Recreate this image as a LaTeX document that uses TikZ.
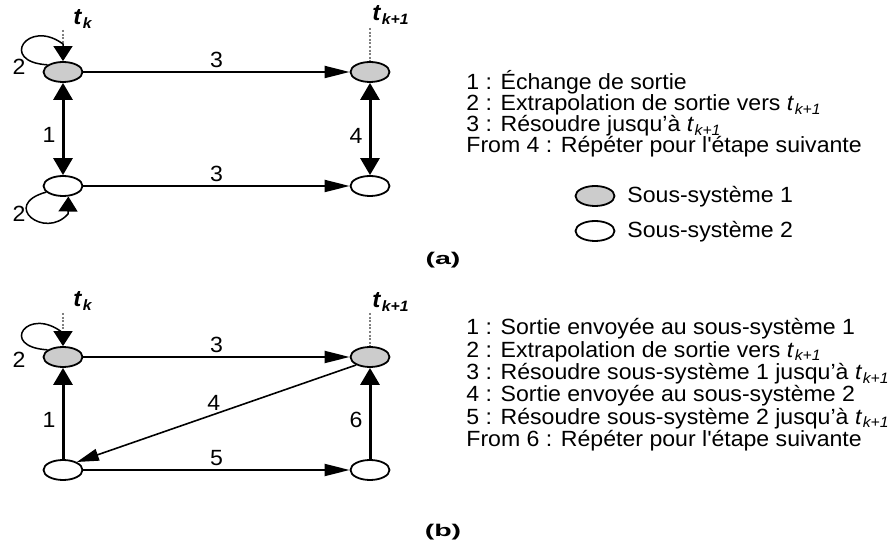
\documentclass[tikz,border=0pt]{standalone}
\usepackage{fontspec}
\setmainfont{Liberation Sans}[FakeStretch=1.05]
\usetikzlibrary{arrows.meta,shapes.geometric}
\definecolor{subgray}{RGB}{204,204,204}
\newcommand{\tstep}[1]{\textit{t}\kern0.3pt\raisebox{-0.3ex}{\fontsize{7.5}{7.5}\selectfont\textit{#1}}}
\tikzset{
  sub1/.style={ellipse, draw, line width=0.9pt, fill=subgray, minimum width=19.5pt, minimum height=10pt, inner sep=0pt},
  sub2/.style={sub1, fill=white},
  flow/.style={line width=1pt, -{Triangle[length=12.5pt, width=6pt]}},
  diag/.style={line width=0.8pt, -{Triangle[length=11pt, width=6pt]}},
  link/.style={line width=1.5pt, {Triangle[length=8.5pt, width=9.5pt]}-{Triangle[length=8.5pt, width=9.5pt]}},
  uplink/.style={line width=1.5pt, -{Triangle[length=8.5pt, width=9.5pt]}},
  selfloop/.style={line width=0.75pt, -{Triangle[length=7.5pt, width=9.5pt]}},
  timeline/.style={gray, line width=0.8pt, dash pattern=on 1pt off 0.8pt},
  num/.style={inner sep=1.5pt},
  side/.style={inner sep=3pt},
  tlabel/.style={anchor=base west, inner sep=0pt, font=\fontsize{11.5}{11.5}\selectfont\bfseries},
  legtext/.style={anchor=base west, inner sep=0pt},
  panel/.style={inner sep=0pt, font=\fontsize{8.5}{8.5}\selectfont\bfseries}
}

\begin{document}
\begin{tikzpicture}[x=0.5pt, y=-0.5pt, font=\fontsize{11}{11}\selectfont]
  \useasboundingbox (0,0) rectangle (888,544);

  % (a) exchange of outputs
  \node[sub1] (a1) at (63,72) {};
  \node[sub1] (a2) at (370,72) {};
  \node[sub2] (a3) at (63,186) {};
  \node[sub2] (a4) at (370,186) {};
  \coordinate (akt) at (63,30); \coordinate (akb) at (63,44); \coordinate (ak1) at (370,28);
  \node[tlabel] (tka) at (73,25) {\tstep{k}};
  \node[tlabel] (tk1a) at (372,21) {\tstep{k+1}};
  \draw[timeline] (akt) -- (akb);
  \draw[timeline] (ak1) -- (a2.north);
  \draw[selfloop] (a1.155) .. controls (-2,62) and (28,18) .. (akb) -- (a1.north);
  \draw[selfloop] (a3.200) .. controls (0,205) and (45,240) .. (68,214) -- (a3.297);
  \node (la2t) at (19,67) {2};
  \node (la2b) at (19,214) {2};
  \draw[flow] (a1) -- node[num, above] (la3t) {3} (a2);
  \draw[flow] (a3) -- node[num, above] (la3b) {3} (a4);
  \draw[link] (a1) -- node[side, left, pos=0.56] (la1) {1} (a3);
  \draw[link] (a2) -- node[side, left, pos=0.57] (la4) {4} (a4);

  \foreach \txt [count=\n] in {1 : Échange de sortie, 2 : Extrapolation de sortie vers \tstep{k+1}, 3 : Résoudre jusqu’à \tstep{k+1}, From 4 : Répéter pour l\textquotesingle étape suivante}
    \node[legtext] (lega\n) at (466, {90+21*(\n-1)}) {\txt};
  \node[sub1] (key1) at (595,196) {};
  \node[legtext] (key1t) at (627,203) {Sous-système 1};
  \node[sub2] (key2) at (595,231) {};
  \node[legtext] (key2t) at (627,238) {Sous-système 2};
  \node[panel] (pa) at (443,260) {\scalebox{1.6}[1]{(a)}};

  % (b) sequential solution
  \node[sub1] (b1) at (63,357) {};
  \node[sub1] (b2) at (370,357) {};
  \node[sub2] (b3) at (63,470) {};
  \node[sub2] (b4) at (370,470) {};
  \coordinate (bkt) at (63,313); \coordinate (bkb) at (63,333); \coordinate (bk1) at (370,313);
  \node[tlabel] (tkb) at (73,307) {\tstep{k}};
  \node[tlabel] (tk1b) at (372,308) {\tstep{k+1}};
  \draw[timeline] (bkt) -- (bkb);
  \draw[timeline] (bk1) -- (b2.north);
  \draw[selfloop] (b1.155) .. controls (-2,347) and (28,305) .. (bkb) -- (b1.north);
  \node (lb2) at (19,360) {2};
  \draw[flow] (b1) -- node[num, above] (lb3) {3} (b2);
  \draw[flow] (b3) -- node[num, above] (lb5) {5} (b4);
  \draw[uplink] (b3) -- node[side, left, pos=0.43] (lb1) {1} (b1);
  \draw[uplink] (b4) -- node[side, left, pos=0.43] (lb6) {6} (b2);
  \draw[diag] (b2.210) -- node[num, above, pos=0.51] (lb4) {4} (b3.30);

  \foreach \txt [count=\n] in {1 : Sortie envoyée au sous-système 1, 2 : Extrapolation de sortie vers \tstep{k+1}, 3 : Résoudre sous-système 1 jusqu’à \tstep{k+1}, 4 : Sortie envoyée au sous-système 2, 5 : Résoudre sous-système 2 jusqu’à \tstep{k+1}, From 6 : Répéter pour l\textquotesingle étape suivante}
    \node[legtext] (legb\n) at (466, {335+22.3*(\n-1)}) {\txt};
  \node[panel] (pb) at (443,532) {\scalebox{1.6}[1]{(b)}};
\end{tikzpicture}
\end{document}
